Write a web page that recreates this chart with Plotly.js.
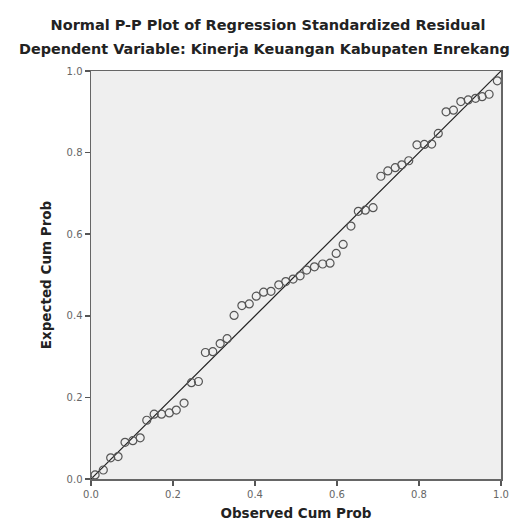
<!DOCTYPE html>
<html>
<head>
<meta charset="utf-8">
<script src="https://cdn.plot.ly/plotly-3.0.1.min.js"></script>
<style>html,body{margin:0;padding:0;background:#fff;}#chart{width:519px;height:530px;}</style>
</head>
<body>
<div id="chart"></div>
<script>
// Observed cumulative probability (x) and expected cumulative probability (y)
var observedCumProb = [0.010,0.030,0.048,0.066,0.083,0.102,0.120,0.136,0.154,0.172,0.191,0.208,0.227,0.245,0.262,0.279,0.297,0.315,0.332,0.349,0.368,0.386,0.403,0.421,0.439,0.458,0.475,0.493,0.510,0.526,0.545,0.565,0.583,0.598,0.615,0.634,0.652,0.669,0.688,0.707,0.724,0.742,0.758,0.775,0.795,0.813,0.831,0.847,0.866,0.884,0.902,0.920,0.938,0.954,0.971,0.991];
var expectedCumProb = [0.010,0.022,0.052,0.055,0.090,0.094,0.101,0.144,0.159,0.159,0.162,0.169,0.186,0.236,0.239,0.310,0.312,0.332,0.344,0.401,0.425,0.429,0.448,0.458,0.460,0.476,0.484,0.490,0.498,0.512,0.520,0.527,0.529,0.553,0.575,0.620,0.656,0.659,0.665,0.742,0.755,0.763,0.770,0.780,0.819,0.820,0.821,0.847,0.900,0.904,0.925,0.929,0.933,0.937,0.943,0.976];
var refLineX = [0, 1];
var refLineY = [0, 1];
var tickVals = [0, 0.2, 0.4, 0.6, 0.8, 1.0];
var tickLabels = ["0.0", "0.2", "0.4", "0.6", "0.8", "1.0"];
var mainTitle = "Normal P-P Plot of Regression Standardized Residual";
var subTitle = "Dependent Variable: Kinerja Keuangan Kabupaten Enrekang";
var xTitle = "Observed Cum Prob";
var yTitle = "Expected Cum Prob";

var FONT = 'DejaVu Sans, Arial, sans-serif';

var traces = [
  {x: refLineX, y: refLineY, mode: 'lines', type: 'scatter',
   line: {color: '#222', width: 1.2}, hoverinfo: 'skip', showlegend: false},
  {x: observedCumProb, y: expectedCumProb, mode: 'markers', type: 'scatter',
   marker: {symbol: 'circle-open', size: 8, color: '#555', line: {width: 1.2, color: '#555'}},
   showlegend: false}
];

var axisCommon = {
  range: [0, 1], tickvals: tickVals, ticktext: tickLabels,
  showgrid: false, zeroline: false, showline: true, linecolor: '#666', linewidth: 1.5,
  mirror: true, ticks: 'outside', ticklen: 5, tickcolor: '#555', tickwidth: 1.5,
  tickfont: {family: FONT, size: 10, color: '#666'}
};

var layout = {
  width: 519, height: 530,
  margin: {l: 91, r: 18, t: 71, b: 51},
  paper_bgcolor: '#ffffff', plot_bgcolor: '#efefef',
  title: {text: '<b>' + mainTitle + '</b>', xref: 'container', yref: 'container',
          x: 268 / 519, y: 1 - 25/530, xanchor: 'center', yanchor: 'middle',
          font: {family: FONT, size: 14.5, color: '#222'}},
  xaxis: Object.assign({}, axisCommon, {
    title: {text: '<b>' + xTitle + '</b>', standoff: 10,
            font: {family: FONT, size: 13.5, color: '#222'}}
  }),
  yaxis: Object.assign({}, axisCommon, {
    title: {text: '<b>' + yTitle + '</b>', standoff: 12,
            font: {family: FONT, size: 13.5, color: '#222'}}
  }),
  annotations: [
    {text: '<b>' + subTitle + '</b>', xref: 'paper', yref: 'paper',
     x: (264 - 91) / 410, y: (479 - 49) / 408, xanchor: 'center', yanchor: 'middle',
     showarrow: false, font: {family: FONT, size: 14.4, color: '#222'}}
  ]
};

Plotly.newPlot('chart', traces, layout, {displayModeBar: false, staticPlot: true});
</script>
</body>
</html>
